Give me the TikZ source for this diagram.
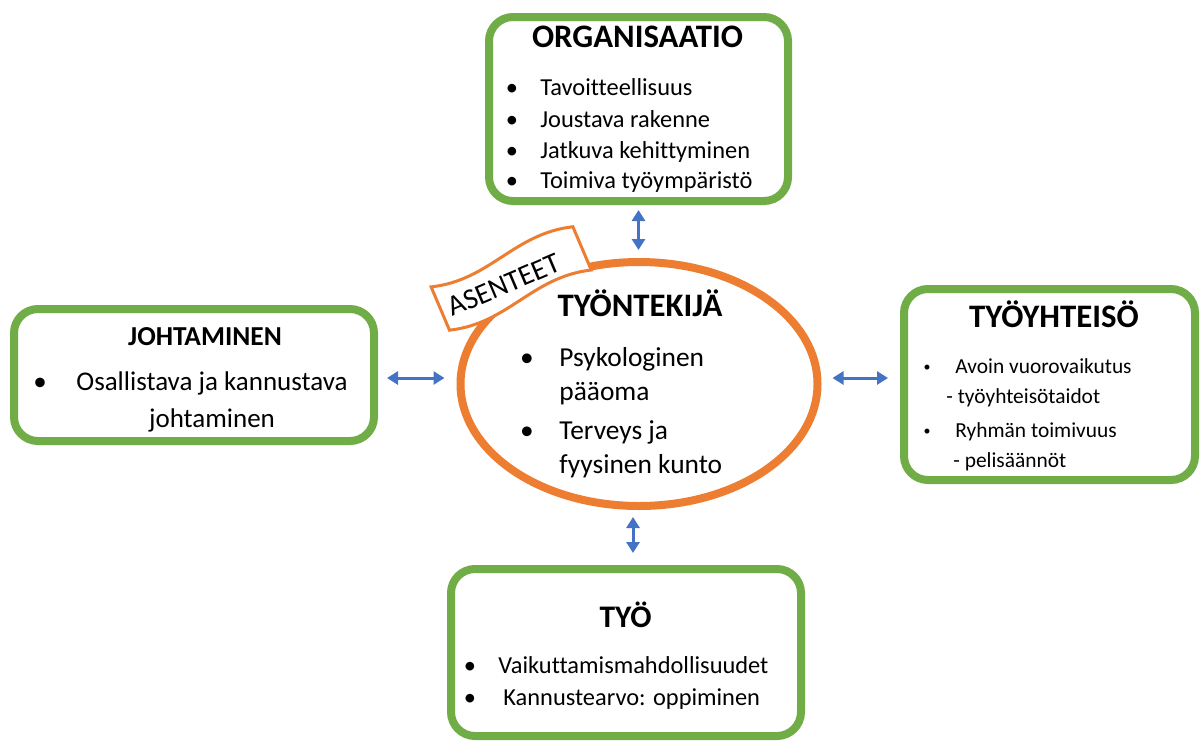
\documentclass[tikz,border=0pt]{standalone}
\usepackage{fontspec}
\setmainfont{Carlito}[Ligatures=CommonOff]
\usetikzlibrary{arrows.meta, shapes.geometric, positioning}
\definecolor{boxgreen}{HTML}{70AD47}
\definecolor{ringorange}{HTML}{ED7D31}
\definecolor{linkblue}{HTML}{4472C4}

\begin{document}
\begin{tikzpicture}[x=0.5pt, y=-0.5pt, >={Triangle[width=6.5pt,length=5.5pt]}, link/.style={draw=linkblue, line width=1.5pt, <->}]
    % Define styles for boxes, titles and list items
    \tikzstyle{box} = [draw=boxgreen, line width=4pt, rounded corners=12pt, fill=white, inner sep=0pt]
    \tikzstyle{title} = [anchor=base, inner sep=0pt, font=\bfseries\fontsize{16.4}{19}\selectfont]
    \tikzstyle{item} = [anchor=base west, inner sep=0pt, font=\fontsize{12.2}{14}\selectfont]
    \tikzstyle{dot} = [anchor=base, inner sep=0pt, font=\fontsize{12.2}{14}\selectfont]

    \useasboundingbox (0,0) rectangle (1200,745);

    % Boxes and the ring
    \node [box, minimum width=149.5pt, minimum height=92pt] (orgbox) at (638.5,109) {};
    \node [box, minimum width=180pt, minimum height=66pt] (johto) at (194,375) {};
    \node [box, minimum width=145.5pt, minimum height=95.5pt] (tyoyht) at (1049.5,384.5) {};
    \node [box, minimum width=175pt, minimum height=83.5pt] (tyo) at (626,652.5) {};
    \node [draw=ringorange, line width=4pt, ellipse, inner sep=0pt, minimum width=178.5pt, minimum height=122pt] (worker) at (639,384) {};

    % Organisaatio
    \node [title] (orgtitle) at (637.5,47) {ORGANISAATIO};
    \node [dot] (orgdot1) at (512,95) {•};
    \node [item] (org1) at (540,95) {Tavoitteellisuus};
    \node [dot] (orgdot2) at (512,127) {•};
    \node [item] (org2) at (540,127) {Joustava rakenne};
    \node [dot] (orgdot3) at (512,158) {•};
    \node [item] (org3) at (540,158) {Jatkuva kehittyminen};
    \node [dot] (orgdot4) at (512,188) {•};
    \node [item] (org4) at (540,188) {Toimiva työympäristö};

    % Johtaminen
    \node [title, font=\bfseries\fontsize{13.7}{16}\selectfont] (johtotitle) at (205,345) {JOHTAMINEN};
    \node [dot, font=\fontsize{13.5}{16}\selectfont] (johtodot) at (40,390) {•};
    \node [anchor=base, inner sep=0pt, font=\fontsize{13.5}{16}\selectfont] (johto1) at (212,390) {Osallistava ja kannustava};
    \node [anchor=base, inner sep=0pt, font=\fontsize{13.5}{16}\selectfont] (johto2) at (212,427) {johtaminen};

    % Tyoyhteiso
    \node [title] (tyoyhttitle) at (1054,327) {TYÖYHTEISÖ};
    \node [dot, font=\fontsize{7}{8}\selectfont] (tyoyhtdot1) at (927,371) {•};
    \node [item, font=\fontsize{10.7}{13}\selectfont] (tyoyht1) at (955,373) {Avoin vuorovaikutus};
    \node [item, font=\fontsize{10.7}{13}\selectfont] (tyoyht2) at (946,403) {- työyhteisötaidot};
    \node [dot, font=\fontsize{7}{8}\selectfont] (tyoyhtdot2) at (927,435) {•};
    \node [item, font=\fontsize{10.7}{13}\selectfont] (tyoyht3) at (955,437) {Ryhmän toimivuus};
    \node [item, font=\fontsize{10.7}{13}\selectfont] (tyoyht4) at (953,467) {- pelisäännöt};

    % Tyo
    \node [title, font=\bfseries\fontsize{15.7}{18}\selectfont] (tyotitle) at (625.5,627) {TYÖ};
    \node [dot] (tyodot1) at (470,673) {•};
    \node [item] (tyo1) at (498,673) {Vaikuttamismahdollisuudet};
    \node [dot] (tyodot2) at (470,705) {•};
    \node [item] (tyo2) at (503,705) {Kannustearvo: oppiminen};

    % Tyontekija
    \node [title] (workertitle) at (640,316) {TYÖNTEKIJÄ};
    \node [dot, font=\fontsize{13.7}{16}\selectfont] (workerdot1) at (527,366) {•};
    \node [item, font=\fontsize{13.7}{16}\selectfont] (worker1) at (559,366) {Psykologinen};
    \node [item, font=\fontsize{13.7}{16}\selectfont] (worker2) at (559,400) {pääoma};
    \node [dot, font=\fontsize{13.7}{16}\selectfont] (workerdot2) at (527,439) {•};
    \node [item, font=\fontsize{13.7}{16}\selectfont] (worker3) at (559,439) {Terveys ja};
    \node [item, font=\fontsize{13.7}{16}\selectfont] (worker4) at (559,473) {fyysinen kunto};

    % Asenteet banner
    \begin{scope}[shift={(511,278)}, rotate=23]
        \draw [draw=ringorange, line width=1.5pt, fill=white] (-77,-23) .. controls (-20,-6) and (20,-40) .. (77,-23) -- (77,24) .. controls (20,7) and (-20,41) .. (-77,24) -- cycle;
    \end{scope}
    \node [rotate=23, inner sep=0pt, font=\fontsize{14.5}{16}\selectfont] (attitude) at (504,285) {ASENTEET};

    % Draw links
    \draw [link, shorten <=2.5pt, shorten >=4pt] (orgbox.south) -- (orgbox.south |- worker.north);
    \draw [link, shorten <=4.5pt, shorten >=6pt] ([yshift=-1.5pt]johto.east) -- ([yshift=-1.5pt]johto.east -| worker.west);
    \draw [link, shorten <=5.5pt, shorten >=6pt] ([yshift=-1.5pt]johto.east -| worker.east) -- ([yshift=-1.5pt]johto.east -| tyoyht.west);
    \draw [link, shorten <=3.5pt, shorten >=6pt] ([xshift=-3pt]worker.south) -- ([xshift=-3pt]worker.south |- tyo.north);
\end{tikzpicture}
\end{document}
